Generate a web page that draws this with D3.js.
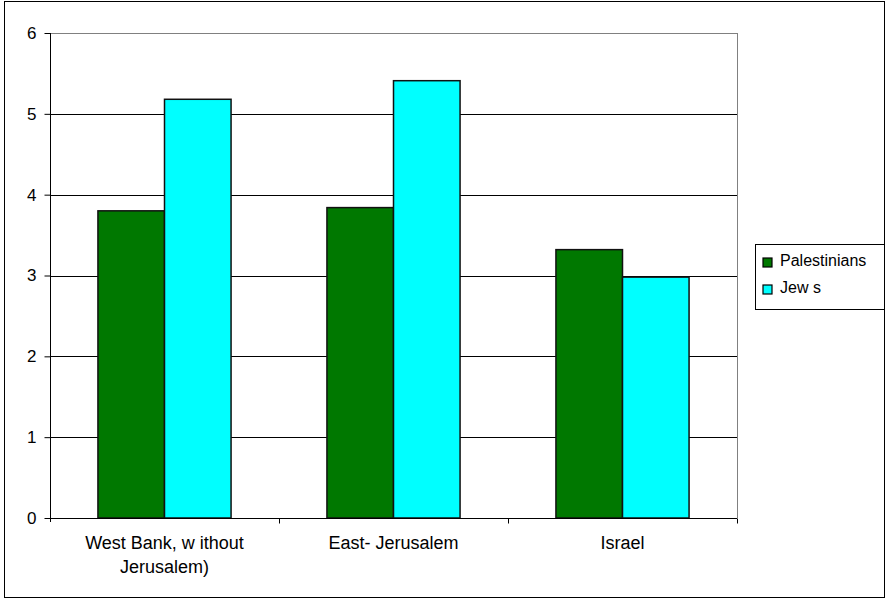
<!DOCTYPE html>
<html>
<head>
<meta charset="utf-8">
<script src="https://cdn.jsdelivr.net/npm/d3@7"></script>
<style>
  body { margin: 0; background: #fff; }
  text { font-family: "Liberation Sans", Arial, sans-serif; fill: #000; }
</style>
</head>
<body>
<svg width="887" height="600"></svg>
<script>
// data
var categories = ["West Bank, w ithout\nJerusalem)", "East- Jerusalem", "Israel"];
var seriesNames = ["Palestinians", "Jew s"];
var palestinians = [3.80, 3.84, 3.32];
var jews = [5.18, 5.41, 2.98];
var yTicks = [0, 1, 2, 3, 4, 5, 6];
var colors = ["#007800", "#00ffff"];

var svg = d3.select("svg");

// outer frame
svg.append("rect")
    .attr("x", 4.5).attr("y", 1.5)
    .attr("width", 880).attr("height", 596)
    .attr("fill", "#fff").attr("stroke", "#000").attr("stroke-width", 1);

var plot = { left: 50, right: 737, top: 33, bottom: 518 };

var x = d3.scaleBand()
    .domain(categories)
    .range([plot.left, plot.right]);

var x1 = d3.scaleBand()
    .domain(seriesNames)
    .range([0, x.bandwidth()])
    .paddingOuter(0.72);

var y = d3.scaleLinear()
    .domain([0, 6])
    .range([plot.bottom, plot.top]);

// gridlines
svg.append("g").selectAll("line")
  .data(yTicks.filter(function(d) { return d > 0; }))
  .enter().append("line")
    .attr("x1", plot.left).attr("x2", plot.right)
    .attr("y1", function(d) { return Math.round(y(d)) + 0.5; })
    .attr("y2", function(d) { return Math.round(y(d)) + 0.5; })
    .attr("stroke", function(d) { return d == 6 ? "#808080" : "#000"; })
    .attr("stroke-width", 1);

// right border of plot area
svg.append("line")
    .attr("x1", plot.right + 0.5).attr("x2", plot.right + 0.5)
    .attr("y1", plot.top).attr("y2", plot.bottom)
    .attr("stroke", "#808080");

// bars
var rows = categories.map(function(c, i) {
  return { cat: c, values: [palestinians[i], jews[i]] };
});

var group = svg.append("g").selectAll("g")
  .data(rows)
  .enter().append("g")
    .attr("transform", function(d) { return "translate(" + x(d.cat) + ",0)"; });

group.selectAll("rect")
  .data(function(d) { return d.values.map(function(v, j) { return { name: seriesNames[j], value: v, j: j }; }); })
  .enter().append("rect")
    .attr("x", function(d) { return x1(d.name); })
    .attr("y", function(d) { return y(d.value); })
    .attr("width", x1.bandwidth())
    .attr("height", function(d) { return y(0) - y(d.value); })
    .attr("fill", function(d) { return colors[d.j]; })
    .attr("stroke", "#111")
    .attr("stroke-width", 1.5);

// y axis
var yAxis = svg.append("g")
    .attr("transform", "translate(" + (plot.left + 0.5) + ",0)")
    .call(d3.axisLeft(y).tickValues(yTicks).tickSize(6).tickPadding(8).tickFormat(d3.format("d")));
yAxis.select(".domain").attr("stroke", "#000").attr("d", "M0," + plot.top + "V" + (plot.bottom + 4));
yAxis.selectAll(".tick line").attr("stroke", "#000");
yAxis.selectAll(".tick text").style("font-size", "17px").attr("font-family", null);

// x axis
var xAxis = svg.append("g")
    .attr("transform", "translate(0," + (plot.bottom + 0.5) + ")");
xAxis.append("line")
    .attr("x1", plot.left).attr("x2", plot.right)
    .attr("stroke", "#000");
xAxis.selectAll("line.tk")
  .data(categories)
  .enter().append("line")
    .attr("class", "tk")
    .attr("x1", function(d) { return Math.round(x(d) + x.bandwidth()) + 0.5; })
    .attr("x2", function(d) { return Math.round(x(d) + x.bandwidth()) + 0.5; })
    .attr("y1", 0).attr("y2", 5)
    .attr("stroke", "#000");

var labels = xAxis.selectAll("text.lbl")
  .data(categories)
  .enter().append("text")
    .attr("class", "lbl")
    .attr("text-anchor", "middle")
    .style("font-size", "18px");
labels.each(function(d) {
  var t = d3.select(this);
  d.split("\n").forEach(function(line, i) {
    t.append("tspan")
      .attr("x", x(d) + x.bandwidth() / 2)
      .attr("y", 30 + i * 24)
      .text(line);
  });
});

// legend
var legend = svg.append("g").attr("transform", "translate(755,244)");
legend.append("rect")
    .attr("x", 0.5).attr("y", 0.5)
    .attr("width", 129).attr("height", 65)
    .attr("fill", "#fff").attr("stroke", "#000");
var item = legend.selectAll("g.item")
  .data(seriesNames)
  .enter().append("g")
    .attr("class", "item")
    .attr("transform", function(d, i) { return "translate(8," + (14 + i * 27) + ")"; });
item.append("rect")
    .attr("width", 9).attr("height", 9)
    .attr("fill", function(d, i) { return colors[i]; })
    .attr("stroke", "#000").attr("stroke-width", 1.2);
item.append("text")
    .attr("x", 17).attr("y", 8)
    .style("font-size", "16px")
    .text(function(d) { return d; });
</script>
</body>
</html>
